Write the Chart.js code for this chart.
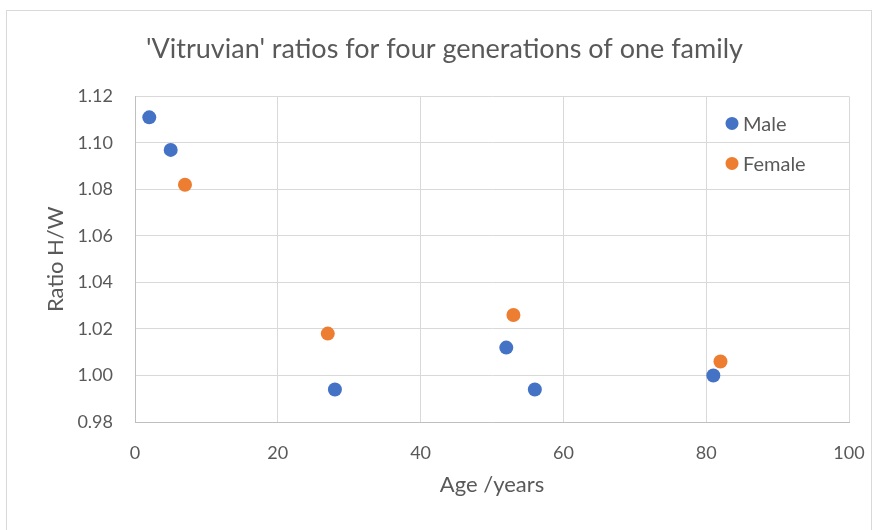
<!DOCTYPE html>
<html lang="en">
<head>
  <meta charset="UTF-8" />
  <title>Vitruvian ratios</title>
  <script src="https://cdn.jsdelivr.net/npm/chart.js"></script>
  <style>
    html, body { margin: 0; padding: 0; background: #fff; overflow: hidden; }
    #frame {
      position: absolute;
      left: 6px; top: 10px;
      width: 866px; height: 520px;
      border: 1px solid #d9d9d9;
      border-bottom: none;
      box-sizing: border-box;
    }
    #wrap { position: absolute; left: 0; top: 0; width: 875px; height: 530px; }
  </style>
</head>
<body>
  <div id="frame"></div>
  <div id="wrap"><canvas id="chart" width="875" height="530"></canvas></div>
  <script>
    const chartTitle = "'Vitruvian' ratios for four generations of one family"
    const xTitle = 'Age /years'
    const yTitle = 'Ratio H/W'

    const maleAge = [2, 5, 28, 52, 56, 81]
    const maleRatio = [1.111, 1.097, 0.994, 1.012, 0.994, 1.000]
    const femaleAge = [7, 27, 53, 82]
    const femaleRatio = [1.082, 1.018, 1.026, 1.006]

    const font = 'Lato, "Open Sans", sans-serif'
    const textColor = '#595959'
    const gridColor = '#d9d9d9'

    const toPoints = (xs, ys) => xs.map((x, i) => ({ x, y: ys[i] }))

    // Excel-style legend drawn inside the plot area, top right
    const insideLegend = {
      id: 'insideLegend',
      afterDraw(chart) {
        const { ctx, chartArea } = chart
        const x = chartArea.right - 117
        let y = chartArea.top + 27
        ctx.save()
        ctx.font = '20px ' + font
        ctx.textBaseline = 'middle'
        ctx.textAlign = 'left'
        chart.data.datasets.forEach(ds => {
          ctx.beginPath()
          ctx.arc(x, y, 6.5, 0, Math.PI * 2)
          ctx.fillStyle = ds.backgroundColor
          ctx.fill()
          ctx.fillStyle = textColor
          ctx.fillText(ds.label, x + 11, y + 1)
          y += 40
        })
        ctx.restore()
      }
    }

    new Chart(document.getElementById('chart'), {
      type: 'scatter',
      data: {
        datasets: [
          {
            label: 'Male',
            data: toPoints(maleAge, maleRatio),
            backgroundColor: '#4472C4',
            borderColor: '#4472C4',
            borderWidth: 0,
            pointRadius: 7,
            pointHoverRadius: 7
          },
          {
            label: 'Female',
            data: toPoints(femaleAge, femaleRatio),
            backgroundColor: '#ED7D31',
            borderColor: '#ED7D31',
            borderWidth: 0,
            pointRadius: 7,
            pointHoverRadius: 7
          }
        ]
      },
      options: {
        responsive: false,
        animation: false,
        layout: { padding: { left: 40, right: 26, top: 0, bottom: 30 } },
        plugins: {
          legend: { display: false },
          tooltip: { enabled: false },
          title: {
            display: true,
            text: chartTitle,
            color: textColor,
            font: { family: font, size: 27, weight: 'normal' },
            padding: { top: 33, bottom: 31 }
          }
        },
        scales: {
          x: {
            type: 'linear',
            min: 0,
            max: 100,
            ticks: {
              stepSize: 20,
              color: textColor,
              font: { family: font, size: 18 },
              padding: 20
            },
            grid: { color: gridColor, drawTicks: false },
            border: { color: '#bfbfbf' },
            title: {
              display: true,
              text: xTitle,
              color: textColor,
              font: { family: font, size: 22 },
              padding: { top: 0, bottom: 2 }
            },
            afterFit(scale) {
              scale.height = 78
              scale.paddingLeft = 0
              scale.paddingRight = 0
            }
          },
          y: {
            type: 'linear',
            min: 0.98,
            max: 1.12,
            ticks: {
              stepSize: 0.02,
              color: textColor,
              font: { family: font, size: 18 },
              padding: 22,
              callback: v => v.toFixed(2)
            },
            grid: { color: gridColor, drawTicks: false },
            border: { color: '#bfbfbf' },
            title: {
              display: true,
              text: yTitle,
              color: textColor,
              font: { family: font, size: 22 },
              padding: { top: 3, bottom: 0 }
            },
            afterFit(scale) { scale.width = 95 }
          }
        }
      },
      plugins: [insideLegend]
    })
  </script>
</body>
</html>
